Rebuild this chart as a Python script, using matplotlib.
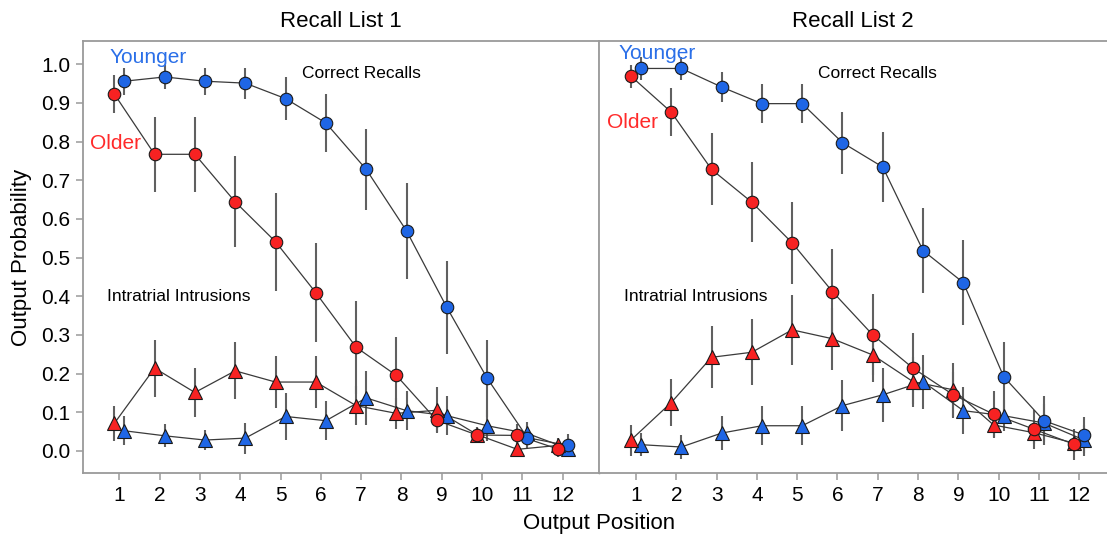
"""Output probability by output position for younger and older adults,
correct recalls vs intratrial intrusions, for two recall lists."""

import matplotlib

matplotlib.use("Agg")
import matplotlib.pyplot as plt
import numpy as np

plt.rcParams["font.family"] = ["Liberation Sans", "DejaVu Sans"]

positions = list(range(1, 13))

# Recall List 1
young_correct_1 = [0.956, 0.967, 0.956, 0.951, 0.911, 0.848, 0.728, 0.569, 0.371, 0.188, 0.034, 0.014]
young_correct_1_err = [0.035, 0.03, 0.035, 0.04, 0.055, 0.075, 0.105, 0.124, 0.12, 0.10, 0.03, 0.03]
old_correct_1 = [0.923, 0.767, 0.767, 0.644, 0.541, 0.409, 0.268, 0.195, 0.079, 0.041, 0.040, 0.005]
old_correct_1_err = [0.05, 0.097, 0.097, 0.118, 0.127, 0.128, 0.12, 0.10, 0.03, 0.02, 0.03, 0.02]
young_intr_1 = [0.052, 0.039, 0.028, 0.033, 0.089, 0.078, 0.137, 0.104, 0.091, 0.065, 0.045, 0.006]
young_intr_1_err = [0.037, 0.03, 0.025, 0.04, 0.06, 0.05, 0.07, 0.05, 0.05, 0.04, 0.03, 0.02]
old_intr_1 = [0.071, 0.214, 0.151, 0.207, 0.178, 0.178, 0.117, 0.097, 0.105, 0.042, 0.004, 0.014]
old_intr_1_err = [0.045, 0.074, 0.063, 0.074, 0.067, 0.067, 0.05, 0.04, 0.06, 0.02, 0.02, 0.02]

# Recall List 2
young_correct_2 = [0.989, 0.989, 0.941, 0.898, 0.898, 0.797, 0.734, 0.518, 0.435, 0.192, 0.078, 0.041]
young_correct_2_err = [0.03, 0.03, 0.04, 0.05, 0.05, 0.08, 0.09, 0.11, 0.11, 0.09, 0.063, 0.047]
old_correct_2 = [0.969, 0.876, 0.728, 0.643, 0.538, 0.412, 0.300, 0.214, 0.145, 0.095, 0.056, 0.017]
old_correct_2_err = [0.03, 0.062, 0.093, 0.103, 0.106, 0.11, 0.105, 0.092, 0.06, 0.06, 0.05, 0.04]
young_intr_2 = [0.016, 0.010, 0.046, 0.065, 0.065, 0.117, 0.145, 0.179, 0.104, 0.091, 0.072, 0.028]
young_intr_2_err = [0.03, 0.03, 0.045, 0.05, 0.05, 0.065, 0.07, 0.07, 0.06, 0.04, 0.05, 0.04]
old_intr_2 = [0.028, 0.125, 0.242, 0.255, 0.313, 0.290, 0.248, 0.179, 0.158, 0.067, 0.047, 0.020]
old_intr_2_err = [0.04, 0.06, 0.08, 0.085, 0.09, 0.08, 0.07, 0.065, 0.07, 0.035, 0.03, 0.02]

BLUE = "#1f66e5"
RED = "#f72222"
FRAME = "#9a9a9a"
OFFSET = 0.125  # older dodged left, younger right


def draw_series(ax, y, err, color, marker, dx):
    x = np.array(positions) + dx
    ax.errorbar(x, y, yerr=err, fmt="none", ecolor="#606060", elinewidth=1.5,
                capsize=0, zorder=1)
    ax.plot(x, y, color="#3a3a3a", lw=0.9, zorder=2)
    ms = 9 if marker == "o" else 9.5
    ax.plot(x, y, ls="none", marker=marker, ms=ms, mfc=color, mec="#1a1a1a",
            mew=0.8, zorder=3)


def draw_panel(ax, data, title, xlim, show_y):
    yc, yce, oc, oce, yi, yie, oi, oie = data
    draw_series(ax, yi, yie, BLUE, "^", OFFSET)
    draw_series(ax, oi, oie, RED, "^", -OFFSET)
    draw_series(ax, yc, yce, BLUE, "o", OFFSET)
    draw_series(ax, oc, oce, RED, "o", -OFFSET)

    ax.set_xlim(*xlim)
    ax.set_ylim(-0.058, 1.06)
    ax.set_xticks(positions)
    ax.set_yticks(np.round(np.arange(0, 1.01, 0.1), 1))
    ax.yaxis.set_major_formatter(matplotlib.ticker.FormatStrFormatter("%.1f"))
    ax.tick_params(direction="out", length=5, width=1.1, color=FRAME,
                   labelsize=15, pad=4)
    for side in ("left", "bottom", "top", "right"):
        ax.spines[side].set_color(FRAME)
        ax.spines[side].set_linewidth(1.3)
    ax.spines["right"].set_visible(False)
    if not show_y:
        ax.tick_params(axis="y", left=False, labelleft=False)
    ax.set_title(title, fontsize=16, pad=10)

    ax.text(7.0, 0.977, "Correct Recalls", ha="center", va="center", fontsize=12.5)
    ax.text(2.48, 0.398, "Intratrial Intrusions", ha="center", va="center",
            fontsize=12.5)


def main():
    fig = plt.figure(figsize=(11.07, 5.39), dpi=100)
    W, H = 1107, 539
    bottom, top = 473.3, 41
    ax1 = fig.add_axes([82.7 / W, 1 - bottom / H, (599 - 82.7) / W, (bottom - top) / H])
    ax2 = fig.add_axes([599 / W, 1 - bottom / H, (1107 - 599) / W, (bottom - top) / H])

    draw_panel(ax1, (young_correct_1, young_correct_1_err, old_correct_1, old_correct_1_err,
                     young_intr_1, young_intr_1_err, old_intr_1, old_intr_1_err),
               "Recall List 1", (0.092, 12.9), True)
    draw_panel(ax2, (young_correct_2, young_correct_2_err, old_correct_2, old_correct_2_err,
                     young_intr_2, young_intr_2_err, old_intr_2, old_intr_2_err),
               "Recall List 2", (0.082, 12.69), False)
    # panel divider
    ax1.spines["right"].set_visible(True)
    ax1.spines["right"].set_color("#555555")
    ax1.spines["right"].set_linewidth(1.0)

    ax1.text(1.71, 1.018, "Younger", color="#2a6fe8", ha="center", va="center", fontsize=15)
    ax1.text(0.9, 0.796, "Older", color="#ff2a2a", ha="center", va="center", fontsize=15)
    ax2.text(1.52, 1.028, "Younger", color="#2a6fe8", ha="center", va="center", fontsize=15)
    ax2.text(0.91, 0.848, "Older", color="#ff2a2a", ha="center", va="center", fontsize=15)

    fig.text(22 / W, 1 - 257 / H, "Output Probability", rotation=90, ha="center",
             va="center", fontsize=16)
    fig.text(599 / W, 1 - 524 / H, "Output Position", ha="center", va="center",
             fontsize=16)

    fig.savefig("out.png", dpi=100)
    plt.close(fig)


if __name__ == "__main__":
    main()
